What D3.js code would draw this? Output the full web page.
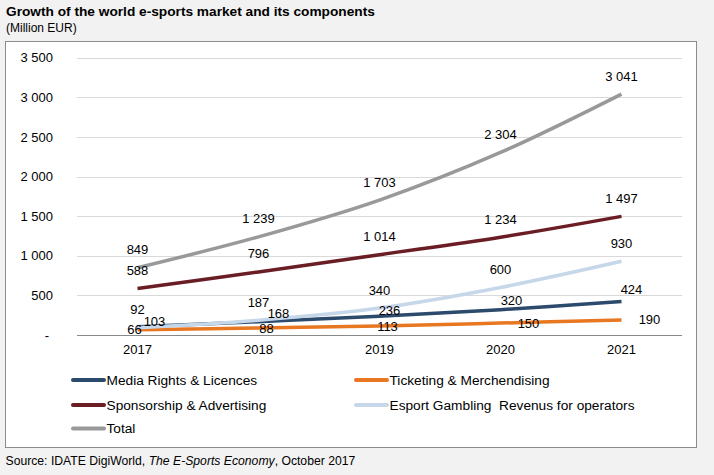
<!DOCTYPE html>
<html>
<head>
<meta charset="utf-8">
<script src="https://cdn.jsdelivr.net/npm/d3@7"></script>
<style>
  html, body { margin: 0; padding: 0; background: #f2f2f2; }
  svg { display: block; font-family: "Liberation Sans", Arial, sans-serif; }
</style>
</head>
<body>
<svg id="chart" width="714" height="475"></svg>
<script>
// ---- Data ----
const years = ["2017", "2018", "2019", "2020", "2021"];
const mediaRights = [103, 168, 236, 320, 424];
const ticketing = [66, 88, 113, 150, 190];
const sponsorship = [588, 796, 1014, 1234, 1497];
const gambling = [92, 187, 340, 600, 930];
const total = [849, 1239, 1703, 2304, 3041];
const yTicks = [0, 500, 1000, 1500, 2000, 2500, 3000, 3500];
const seriesNames = ["Media Rights & Licences", "Ticketing & Merchendising", "Sponsorship & Advertising", "Esport Gambling  Revenus for operators", "Total"];

// ---- Styling ----
const colors = ["#2c4a6b", "#e87722", "#6b1d24", "#c6d7ea", "#999999"];
// label nudges (dx, dy) relative to each point
const labelNudge = [
  [[17, -5], [20, -8], [10, -6], [11, -9], [10, -12]],
  [[-3, 0], [8, 0], [8, 0], [28, 0], [28, 0]],
  [[0, -18], [0, -18], [0, -18], [0, -18], [0, -18]],
  [[0, -18], [0, -18], [0, -18], [0, -18], [0, -18]],
  [[0, -18], [0, -18], [0, -18], [0, -18], [0, -18]]
];

const series = [mediaRights, ticketing, sponsorship, gambling, total];

const svg = d3.select("#chart");

// titles
svg.append("text").attr("x", 6).attr("y", 16)
  .attr("font-size", 13.7).attr("font-weight", "bold").attr("fill", "#000")
  .text("Growth of the world e-sports market and its components");
svg.append("text").attr("x", 6).attr("y", 32)
  .attr("font-size", 12).attr("fill", "#000")
  .text("(Million EUR)");

// box
svg.append("rect").attr("x", 5.5).attr("y", 41.5).attr("width", 691).attr("height", 406)
  .attr("fill", "#ffffff").attr("stroke", "#8c8c8c").attr("stroke-width", 1);

const x = d3.scaleBand().domain(years).range([77, 682]).padding(0);
const y = d3.scaleLinear().domain([0, 3500]).range([335, 57.7]);
const cx = d => x(d) + x.bandwidth() / 2;

const fmt = v => v === 0 ? "-" : d3.format(",")(v).replace(/,/g, " ");

// gridlines
svg.append("g").selectAll("line").data(yTicks.filter(d => d > 0)).join("line")
  .attr("x1", 77).attr("x2", 682)
  .attr("y1", d => Math.round(y(d)) + 0.5).attr("y2", d => Math.round(y(d)) + 0.5)
  .attr("stroke", "#d9d9d9").attr("stroke-width", 1);

// y axis labels
const yAxis = d3.axisLeft(y).tickValues(yTicks).tickSize(0).tickPadding(0).tickFormat(fmt);
const gy = svg.append("g").attr("transform", "translate(53,0)").call(yAxis);
gy.select(".domain").remove();
gy.selectAll("text").attr("font-size", 13).attr("fill", "#000")
  .attr("font-family", "Liberation Sans, Arial, sans-serif")
  .attr("dx", d => d === 0 ? -4 : 0);

// x axis
const xAxis = d3.axisBottom(x).tickSize(0).tickPadding(9);
const gx = svg.append("g").attr("transform", `translate(0,${Math.round(y(0)) + 0.5})`).call(xAxis);
gx.select(".domain").attr("stroke", "#898989").attr("d", "M77,0H682");
gx.selectAll("text").attr("font-size", 13).attr("fill", "#000")
  .attr("font-family", "Liberation Sans, Arial, sans-serif");

// lines
const line = d3.line()
  .x((d, i) => cx(years[i]))
  .y(d => y(d))
  .curve(d3.curveCatmullRom.alpha(0.5));

series.forEach((s, k) => {
  svg.append("path").datum(s)
    .attr("d", line)
    .attr("fill", "none")
    .attr("stroke", colors[k])
    .attr("stroke-width", 3.5);
});

// labels
series.forEach((s, k) => {
  svg.append("g").selectAll("text").data(s).join("text")
    .attr("x", (d, i) => cx(years[i]) + labelNudge[k][i][0])
    .attr("y", (d, i) => y(d) + labelNudge[k][i][1])
    .attr("dy", "0.35em")
    .attr("text-anchor", "middle")
    .attr("font-size", 13).attr("fill", "#000")
    .text(d => fmt(d));
});

// legend
const legendPos = [[72, 380], [355, 380], [72, 405], [355, 405], [72, 428.5]];
seriesNames.forEach((name, k) => {
  const g = svg.append("g").attr("transform", `translate(${legendPos[k][0]},${legendPos[k][1]})`);
  g.append("line").attr("x1", 1).attr("x2", 32).attr("y1", 0).attr("y2", 0)
    .attr("stroke", colors[k]).attr("stroke-width", 4).attr("stroke-linecap", "round");
  g.append("text").attr("x", 34.5).attr("y", 0).attr("dy", "0.35em")
    .attr("font-size", 13.7).attr("fill", "#000")
    .attr("xml:space", "preserve").style("white-space", "pre")
    .text(name);
});

// source
const src = svg.append("text").attr("x", 5.5).attr("y", 465).attr("font-size", 12.2).attr("fill", "#000");
src.append("tspan").text("Source: IDATE DigiWorld, ");
src.append("tspan").attr("font-style", "italic").text("The E-Sports Economy");
src.append("tspan").text(", October 2017");
</script>
</body>
</html>
